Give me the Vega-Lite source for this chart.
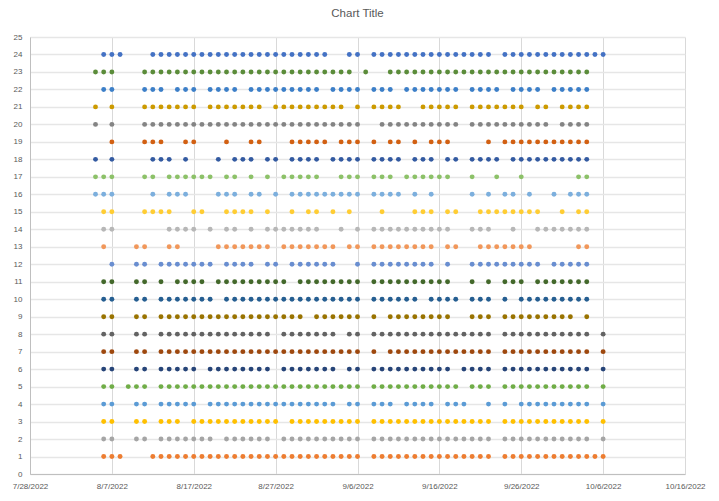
{
"$schema":"https://vega.github.io/schema/vega-lite/v6.json",
"width":655,"height":437,
"autosize":{"type":"none"},
"padding":{"left":30,"top":37,"right":34,"bottom":27},
"background":"white",
"title":{"text":"Chart Title","fontSize":11.5,"font":"Liberation Sans","fontWeight":"normal","color":"#595959","offset":14,"anchor":"middle"},
"config":{"view":{"stroke":null}},
"data":{"values":[
{"y":24,"d":"2022-08-06"},{"y":24,"d":"2022-08-07"},{"y":24,"d":"2022-08-08"},{"y":24,"d":"2022-08-12"},{"y":24,"d":"2022-08-13"},{"y":24,"d":"2022-08-14"},{"y":24,"d":"2022-08-15"},{"y":24,"d":"2022-08-16"},{"y":24,"d":"2022-08-17"},{"y":24,"d":"2022-08-18"},{"y":24,"d":"2022-08-19"},{"y":24,"d":"2022-08-20"},{"y":24,"d":"2022-08-21"},{"y":24,"d":"2022-08-22"},{"y":24,"d":"2022-08-23"},{"y":24,"d":"2022-08-24"},{"y":24,"d":"2022-08-25"},{"y":24,"d":"2022-08-26"},{"y":24,"d":"2022-08-27"},{"y":24,"d":"2022-08-28"},{"y":24,"d":"2022-08-29"},{"y":24,"d":"2022-08-30"},{"y":24,"d":"2022-08-31"},
{"y":24,"d":"2022-09-01"},{"y":24,"d":"2022-09-02"},{"y":24,"d":"2022-09-05"},{"y":24,"d":"2022-09-06"},{"y":24,"d":"2022-09-08"},{"y":24,"d":"2022-09-09"},{"y":24,"d":"2022-09-10"},{"y":24,"d":"2022-09-11"},{"y":24,"d":"2022-09-12"},{"y":24,"d":"2022-09-13"},{"y":24,"d":"2022-09-14"},{"y":24,"d":"2022-09-15"},{"y":24,"d":"2022-09-16"},{"y":24,"d":"2022-09-17"},{"y":24,"d":"2022-09-18"},{"y":24,"d":"2022-09-19"},{"y":24,"d":"2022-09-20"},{"y":24,"d":"2022-09-21"},{"y":24,"d":"2022-09-22"},{"y":24,"d":"2022-09-24"},{"y":24,"d":"2022-09-25"},{"y":24,"d":"2022-09-26"},{"y":24,"d":"2022-09-27"},{"y":24,"d":"2022-09-28"},{"y":24,"d":"2022-09-29"},{"y":24,"d":"2022-09-30"},
{"y":24,"d":"2022-10-01"},{"y":24,"d":"2022-10-02"},{"y":24,"d":"2022-10-03"},{"y":24,"d":"2022-10-04"},{"y":24,"d":"2022-10-05"},{"y":24,"d":"2022-10-06"},
{"y":23,"d":"2022-08-05"},{"y":23,"d":"2022-08-06"},{"y":23,"d":"2022-08-07"},{"y":23,"d":"2022-08-11"},{"y":23,"d":"2022-08-12"},{"y":23,"d":"2022-08-13"},{"y":23,"d":"2022-08-14"},{"y":23,"d":"2022-08-15"},{"y":23,"d":"2022-08-16"},{"y":23,"d":"2022-08-17"},{"y":23,"d":"2022-08-18"},{"y":23,"d":"2022-08-19"},{"y":23,"d":"2022-08-20"},{"y":23,"d":"2022-08-21"},{"y":23,"d":"2022-08-22"},{"y":23,"d":"2022-08-23"},{"y":23,"d":"2022-08-24"},{"y":23,"d":"2022-08-25"},{"y":23,"d":"2022-08-26"},{"y":23,"d":"2022-08-27"},{"y":23,"d":"2022-08-28"},{"y":23,"d":"2022-08-29"},{"y":23,"d":"2022-08-30"},{"y":23,"d":"2022-08-31"},
{"y":23,"d":"2022-09-01"},{"y":23,"d":"2022-09-02"},{"y":23,"d":"2022-09-03"},{"y":23,"d":"2022-09-04"},{"y":23,"d":"2022-09-05"},{"y":23,"d":"2022-09-07"},{"y":23,"d":"2022-09-10"},{"y":23,"d":"2022-09-11"},{"y":23,"d":"2022-09-12"},{"y":23,"d":"2022-09-13"},{"y":23,"d":"2022-09-14"},{"y":23,"d":"2022-09-15"},{"y":23,"d":"2022-09-16"},{"y":23,"d":"2022-09-17"},{"y":23,"d":"2022-09-18"},{"y":23,"d":"2022-09-19"},{"y":23,"d":"2022-09-20"},{"y":23,"d":"2022-09-21"},{"y":23,"d":"2022-09-22"},{"y":23,"d":"2022-09-23"},{"y":23,"d":"2022-09-24"},{"y":23,"d":"2022-09-25"},{"y":23,"d":"2022-09-26"},{"y":23,"d":"2022-09-27"},{"y":23,"d":"2022-09-28"},{"y":23,"d":"2022-09-29"},{"y":23,"d":"2022-09-30"},
{"y":23,"d":"2022-10-01"},{"y":23,"d":"2022-10-02"},{"y":23,"d":"2022-10-03"},{"y":23,"d":"2022-10-04"},
{"y":22,"d":"2022-08-06"},{"y":22,"d":"2022-08-07"},{"y":22,"d":"2022-08-11"},{"y":22,"d":"2022-08-12"},{"y":22,"d":"2022-08-13"},{"y":22,"d":"2022-08-15"},{"y":22,"d":"2022-08-16"},{"y":22,"d":"2022-08-17"},{"y":22,"d":"2022-08-19"},{"y":22,"d":"2022-08-20"},{"y":22,"d":"2022-08-21"},{"y":22,"d":"2022-08-22"},{"y":22,"d":"2022-08-24"},{"y":22,"d":"2022-08-25"},{"y":22,"d":"2022-08-26"},{"y":22,"d":"2022-08-27"},{"y":22,"d":"2022-08-28"},{"y":22,"d":"2022-08-29"},{"y":22,"d":"2022-08-30"},{"y":22,"d":"2022-08-31"},
{"y":22,"d":"2022-09-01"},{"y":22,"d":"2022-09-03"},{"y":22,"d":"2022-09-04"},{"y":22,"d":"2022-09-05"},{"y":22,"d":"2022-09-06"},{"y":22,"d":"2022-09-08"},{"y":22,"d":"2022-09-09"},{"y":22,"d":"2022-09-10"},{"y":22,"d":"2022-09-12"},{"y":22,"d":"2022-09-13"},{"y":22,"d":"2022-09-14"},{"y":22,"d":"2022-09-15"},{"y":22,"d":"2022-09-16"},{"y":22,"d":"2022-09-17"},{"y":22,"d":"2022-09-18"},{"y":22,"d":"2022-09-20"},{"y":22,"d":"2022-09-21"},{"y":22,"d":"2022-09-22"},{"y":22,"d":"2022-09-23"},{"y":22,"d":"2022-09-25"},{"y":22,"d":"2022-09-26"},{"y":22,"d":"2022-09-27"},{"y":22,"d":"2022-09-28"},{"y":22,"d":"2022-09-30"},
{"y":22,"d":"2022-10-01"},{"y":22,"d":"2022-10-02"},{"y":22,"d":"2022-10-03"},{"y":22,"d":"2022-10-04"},
{"y":21,"d":"2022-08-05"},{"y":21,"d":"2022-08-07"},{"y":21,"d":"2022-08-11"},{"y":21,"d":"2022-08-12"},{"y":21,"d":"2022-08-13"},{"y":21,"d":"2022-08-14"},{"y":21,"d":"2022-08-15"},{"y":21,"d":"2022-08-16"},{"y":21,"d":"2022-08-17"},{"y":21,"d":"2022-08-19"},{"y":21,"d":"2022-08-20"},{"y":21,"d":"2022-08-21"},{"y":21,"d":"2022-08-22"},{"y":21,"d":"2022-08-23"},{"y":21,"d":"2022-08-24"},{"y":21,"d":"2022-08-25"},{"y":21,"d":"2022-08-27"},{"y":21,"d":"2022-08-28"},{"y":21,"d":"2022-08-29"},{"y":21,"d":"2022-08-30"},{"y":21,"d":"2022-08-31"},
{"y":21,"d":"2022-09-01"},{"y":21,"d":"2022-09-02"},{"y":21,"d":"2022-09-03"},{"y":21,"d":"2022-09-04"},{"y":21,"d":"2022-09-06"},{"y":21,"d":"2022-09-08"},{"y":21,"d":"2022-09-09"},{"y":21,"d":"2022-09-10"},{"y":21,"d":"2022-09-11"},{"y":21,"d":"2022-09-14"},{"y":21,"d":"2022-09-15"},{"y":21,"d":"2022-09-16"},{"y":21,"d":"2022-09-17"},{"y":21,"d":"2022-09-18"},{"y":21,"d":"2022-09-20"},{"y":21,"d":"2022-09-21"},{"y":21,"d":"2022-09-22"},{"y":21,"d":"2022-09-23"},{"y":21,"d":"2022-09-24"},{"y":21,"d":"2022-09-25"},{"y":21,"d":"2022-09-26"},{"y":21,"d":"2022-09-28"},{"y":21,"d":"2022-09-29"},
{"y":21,"d":"2022-10-01"},{"y":21,"d":"2022-10-02"},{"y":21,"d":"2022-10-03"},{"y":21,"d":"2022-10-04"},
{"y":20,"d":"2022-08-05"},{"y":20,"d":"2022-08-07"},{"y":20,"d":"2022-08-11"},{"y":20,"d":"2022-08-12"},{"y":20,"d":"2022-08-13"},{"y":20,"d":"2022-08-14"},{"y":20,"d":"2022-08-15"},{"y":20,"d":"2022-08-16"},{"y":20,"d":"2022-08-17"},{"y":20,"d":"2022-08-18"},{"y":20,"d":"2022-08-19"},{"y":20,"d":"2022-08-20"},{"y":20,"d":"2022-08-21"},{"y":20,"d":"2022-08-22"},{"y":20,"d":"2022-08-23"},{"y":20,"d":"2022-08-24"},{"y":20,"d":"2022-08-25"},{"y":20,"d":"2022-08-26"},{"y":20,"d":"2022-08-27"},{"y":20,"d":"2022-08-28"},{"y":20,"d":"2022-08-29"},{"y":20,"d":"2022-08-30"},{"y":20,"d":"2022-08-31"},
{"y":20,"d":"2022-09-01"},{"y":20,"d":"2022-09-02"},{"y":20,"d":"2022-09-03"},{"y":20,"d":"2022-09-04"},{"y":20,"d":"2022-09-05"},{"y":20,"d":"2022-09-06"},{"y":20,"d":"2022-09-09"},{"y":20,"d":"2022-09-10"},{"y":20,"d":"2022-09-11"},{"y":20,"d":"2022-09-12"},{"y":20,"d":"2022-09-13"},{"y":20,"d":"2022-09-14"},{"y":20,"d":"2022-09-15"},{"y":20,"d":"2022-09-16"},{"y":20,"d":"2022-09-17"},{"y":20,"d":"2022-09-18"},{"y":20,"d":"2022-09-20"},{"y":20,"d":"2022-09-21"},{"y":20,"d":"2022-09-22"},{"y":20,"d":"2022-09-23"},{"y":20,"d":"2022-09-24"},{"y":20,"d":"2022-09-25"},{"y":20,"d":"2022-09-26"},{"y":20,"d":"2022-09-27"},{"y":20,"d":"2022-09-28"},{"y":20,"d":"2022-09-29"},
{"y":20,"d":"2022-10-01"},{"y":20,"d":"2022-10-02"},{"y":20,"d":"2022-10-03"},{"y":20,"d":"2022-10-04"},
{"y":19,"d":"2022-08-07"},{"y":19,"d":"2022-08-11"},{"y":19,"d":"2022-08-12"},{"y":19,"d":"2022-08-13"},{"y":19,"d":"2022-08-16"},{"y":19,"d":"2022-08-17"},{"y":19,"d":"2022-08-21"},{"y":19,"d":"2022-08-24"},{"y":19,"d":"2022-08-25"},{"y":19,"d":"2022-08-29"},{"y":19,"d":"2022-08-30"},{"y":19,"d":"2022-08-31"},
{"y":19,"d":"2022-09-01"},{"y":19,"d":"2022-09-02"},{"y":19,"d":"2022-09-04"},{"y":19,"d":"2022-09-05"},{"y":19,"d":"2022-09-06"},{"y":19,"d":"2022-09-08"},{"y":19,"d":"2022-09-10"},{"y":19,"d":"2022-09-11"},{"y":19,"d":"2022-09-13"},{"y":19,"d":"2022-09-15"},{"y":19,"d":"2022-09-16"},{"y":19,"d":"2022-09-17"},{"y":19,"d":"2022-09-22"},{"y":19,"d":"2022-09-24"},{"y":19,"d":"2022-09-25"},{"y":19,"d":"2022-09-26"},{"y":19,"d":"2022-09-27"},{"y":19,"d":"2022-09-28"},{"y":19,"d":"2022-09-29"},{"y":19,"d":"2022-09-30"},
{"y":19,"d":"2022-10-01"},{"y":19,"d":"2022-10-02"},{"y":19,"d":"2022-10-03"},{"y":19,"d":"2022-10-04"},
{"y":18,"d":"2022-08-05"},{"y":18,"d":"2022-08-07"},{"y":18,"d":"2022-08-12"},{"y":18,"d":"2022-08-13"},{"y":18,"d":"2022-08-14"},{"y":18,"d":"2022-08-16"},{"y":18,"d":"2022-08-20"},{"y":18,"d":"2022-08-22"},{"y":18,"d":"2022-08-23"},{"y":18,"d":"2022-08-24"},{"y":18,"d":"2022-08-26"},{"y":18,"d":"2022-08-27"},{"y":18,"d":"2022-08-29"},{"y":18,"d":"2022-08-30"},{"y":18,"d":"2022-08-31"},
{"y":18,"d":"2022-09-01"},{"y":18,"d":"2022-09-03"},{"y":18,"d":"2022-09-04"},{"y":18,"d":"2022-09-05"},{"y":18,"d":"2022-09-06"},{"y":18,"d":"2022-09-08"},{"y":18,"d":"2022-09-09"},{"y":18,"d":"2022-09-10"},{"y":18,"d":"2022-09-11"},{"y":18,"d":"2022-09-13"},{"y":18,"d":"2022-09-14"},{"y":18,"d":"2022-09-15"},{"y":18,"d":"2022-09-17"},{"y":18,"d":"2022-09-18"},{"y":18,"d":"2022-09-20"},{"y":18,"d":"2022-09-21"},{"y":18,"d":"2022-09-22"},{"y":18,"d":"2022-09-23"},{"y":18,"d":"2022-09-25"},{"y":18,"d":"2022-09-26"},{"y":18,"d":"2022-09-27"},{"y":18,"d":"2022-09-28"},{"y":18,"d":"2022-09-29"},{"y":18,"d":"2022-09-30"},
{"y":18,"d":"2022-10-01"},{"y":18,"d":"2022-10-02"},{"y":18,"d":"2022-10-03"},{"y":18,"d":"2022-10-04"},
{"y":17,"d":"2022-08-05"},{"y":17,"d":"2022-08-06"},{"y":17,"d":"2022-08-07"},{"y":17,"d":"2022-08-11"},{"y":17,"d":"2022-08-12"},{"y":17,"d":"2022-08-14"},{"y":17,"d":"2022-08-15"},{"y":17,"d":"2022-08-16"},{"y":17,"d":"2022-08-17"},{"y":17,"d":"2022-08-18"},{"y":17,"d":"2022-08-19"},{"y":17,"d":"2022-08-21"},{"y":17,"d":"2022-08-22"},{"y":17,"d":"2022-08-24"},{"y":17,"d":"2022-08-26"},{"y":17,"d":"2022-08-28"},{"y":17,"d":"2022-08-29"},{"y":17,"d":"2022-08-30"},{"y":17,"d":"2022-08-31"},
{"y":17,"d":"2022-09-01"},{"y":17,"d":"2022-09-04"},{"y":17,"d":"2022-09-05"},{"y":17,"d":"2022-09-06"},{"y":17,"d":"2022-09-08"},{"y":17,"d":"2022-09-09"},{"y":17,"d":"2022-09-10"},{"y":17,"d":"2022-09-12"},{"y":17,"d":"2022-09-13"},{"y":17,"d":"2022-09-14"},{"y":17,"d":"2022-09-15"},{"y":17,"d":"2022-09-16"},{"y":17,"d":"2022-09-17"},{"y":17,"d":"2022-09-20"},{"y":17,"d":"2022-09-23"},{"y":17,"d":"2022-09-26"},
{"y":17,"d":"2022-10-03"},{"y":17,"d":"2022-10-04"},
{"y":16,"d":"2022-08-05"},{"y":16,"d":"2022-08-06"},{"y":16,"d":"2022-08-07"},{"y":16,"d":"2022-08-12"},{"y":16,"d":"2022-08-14"},{"y":16,"d":"2022-08-15"},{"y":16,"d":"2022-08-16"},{"y":16,"d":"2022-08-20"},{"y":16,"d":"2022-08-21"},{"y":16,"d":"2022-08-22"},{"y":16,"d":"2022-08-24"},{"y":16,"d":"2022-08-25"},{"y":16,"d":"2022-08-27"},{"y":16,"d":"2022-08-29"},{"y":16,"d":"2022-08-30"},{"y":16,"d":"2022-08-31"},
{"y":16,"d":"2022-09-01"},{"y":16,"d":"2022-09-02"},{"y":16,"d":"2022-09-03"},{"y":16,"d":"2022-09-04"},{"y":16,"d":"2022-09-05"},{"y":16,"d":"2022-09-06"},{"y":16,"d":"2022-09-08"},{"y":16,"d":"2022-09-09"},{"y":16,"d":"2022-09-10"},{"y":16,"d":"2022-09-11"},{"y":16,"d":"2022-09-13"},{"y":16,"d":"2022-09-15"},{"y":16,"d":"2022-09-20"},{"y":16,"d":"2022-09-22"},{"y":16,"d":"2022-09-24"},{"y":16,"d":"2022-09-25"},{"y":16,"d":"2022-09-27"},{"y":16,"d":"2022-09-30"},
{"y":16,"d":"2022-10-02"},{"y":16,"d":"2022-10-03"},{"y":16,"d":"2022-10-04"},
{"y":15,"d":"2022-08-06"},{"y":15,"d":"2022-08-07"},{"y":15,"d":"2022-08-11"},{"y":15,"d":"2022-08-12"},{"y":15,"d":"2022-08-13"},{"y":15,"d":"2022-08-14"},{"y":15,"d":"2022-08-17"},{"y":15,"d":"2022-08-18"},{"y":15,"d":"2022-08-21"},{"y":15,"d":"2022-08-22"},{"y":15,"d":"2022-08-23"},{"y":15,"d":"2022-08-24"},{"y":15,"d":"2022-08-26"},{"y":15,"d":"2022-08-29"},{"y":15,"d":"2022-08-31"},
{"y":15,"d":"2022-09-01"},{"y":15,"d":"2022-09-03"},{"y":15,"d":"2022-09-05"},{"y":15,"d":"2022-09-09"},{"y":15,"d":"2022-09-13"},{"y":15,"d":"2022-09-14"},{"y":15,"d":"2022-09-15"},{"y":15,"d":"2022-09-17"},{"y":15,"d":"2022-09-18"},{"y":15,"d":"2022-09-21"},{"y":15,"d":"2022-09-22"},{"y":15,"d":"2022-09-23"},{"y":15,"d":"2022-09-24"},{"y":15,"d":"2022-09-25"},{"y":15,"d":"2022-09-26"},{"y":15,"d":"2022-09-27"},{"y":15,"d":"2022-09-28"},
{"y":15,"d":"2022-10-01"},{"y":15,"d":"2022-10-03"},{"y":15,"d":"2022-10-04"},
{"y":14,"d":"2022-08-06"},{"y":14,"d":"2022-08-07"},{"y":14,"d":"2022-08-14"},{"y":14,"d":"2022-08-15"},{"y":14,"d":"2022-08-16"},{"y":14,"d":"2022-08-17"},{"y":14,"d":"2022-08-19"},{"y":14,"d":"2022-08-21"},{"y":14,"d":"2022-08-22"},{"y":14,"d":"2022-08-24"},{"y":14,"d":"2022-08-26"},{"y":14,"d":"2022-08-27"},{"y":14,"d":"2022-08-28"},{"y":14,"d":"2022-08-29"},{"y":14,"d":"2022-08-30"},{"y":14,"d":"2022-08-31"},
{"y":14,"d":"2022-09-01"},{"y":14,"d":"2022-09-04"},{"y":14,"d":"2022-09-06"},{"y":14,"d":"2022-09-08"},{"y":14,"d":"2022-09-09"},{"y":14,"d":"2022-09-10"},{"y":14,"d":"2022-09-11"},{"y":14,"d":"2022-09-12"},{"y":14,"d":"2022-09-13"},{"y":14,"d":"2022-09-14"},{"y":14,"d":"2022-09-15"},{"y":14,"d":"2022-09-16"},{"y":14,"d":"2022-09-17"},{"y":14,"d":"2022-09-20"},{"y":14,"d":"2022-09-21"},{"y":14,"d":"2022-09-22"},{"y":14,"d":"2022-09-25"},{"y":14,"d":"2022-09-28"},{"y":14,"d":"2022-09-29"},{"y":14,"d":"2022-09-30"},
{"y":14,"d":"2022-10-01"},{"y":14,"d":"2022-10-02"},{"y":14,"d":"2022-10-03"},{"y":14,"d":"2022-10-04"},
{"y":13,"d":"2022-08-06"},{"y":13,"d":"2022-08-10"},{"y":13,"d":"2022-08-11"},{"y":13,"d":"2022-08-14"},{"y":13,"d":"2022-08-15"},{"y":13,"d":"2022-08-20"},{"y":13,"d":"2022-08-21"},{"y":13,"d":"2022-08-22"},{"y":13,"d":"2022-08-23"},{"y":13,"d":"2022-08-24"},{"y":13,"d":"2022-08-25"},{"y":13,"d":"2022-08-26"},{"y":13,"d":"2022-08-28"},{"y":13,"d":"2022-08-29"},{"y":13,"d":"2022-08-30"},{"y":13,"d":"2022-08-31"},
{"y":13,"d":"2022-09-01"},{"y":13,"d":"2022-09-02"},{"y":13,"d":"2022-09-03"},{"y":13,"d":"2022-09-05"},{"y":13,"d":"2022-09-06"},{"y":13,"d":"2022-09-08"},{"y":13,"d":"2022-09-09"},{"y":13,"d":"2022-09-10"},{"y":13,"d":"2022-09-11"},{"y":13,"d":"2022-09-12"},{"y":13,"d":"2022-09-13"},{"y":13,"d":"2022-09-14"},{"y":13,"d":"2022-09-15"},{"y":13,"d":"2022-09-17"},{"y":13,"d":"2022-09-18"},{"y":13,"d":"2022-09-21"},{"y":13,"d":"2022-09-22"},{"y":13,"d":"2022-09-23"},{"y":13,"d":"2022-09-24"},{"y":13,"d":"2022-09-25"},{"y":13,"d":"2022-09-26"},{"y":13,"d":"2022-09-27"},
{"y":13,"d":"2022-10-03"},{"y":13,"d":"2022-10-04"},
{"y":12,"d":"2022-08-07"},{"y":12,"d":"2022-08-10"},{"y":12,"d":"2022-08-11"},{"y":12,"d":"2022-08-13"},{"y":12,"d":"2022-08-14"},{"y":12,"d":"2022-08-15"},{"y":12,"d":"2022-08-16"},{"y":12,"d":"2022-08-17"},{"y":12,"d":"2022-08-18"},{"y":12,"d":"2022-08-19"},{"y":12,"d":"2022-08-21"},{"y":12,"d":"2022-08-22"},{"y":12,"d":"2022-08-23"},{"y":12,"d":"2022-08-24"},{"y":12,"d":"2022-08-26"},{"y":12,"d":"2022-08-27"},{"y":12,"d":"2022-08-29"},{"y":12,"d":"2022-08-30"},{"y":12,"d":"2022-08-31"},
{"y":12,"d":"2022-09-01"},{"y":12,"d":"2022-09-02"},{"y":12,"d":"2022-09-03"},{"y":12,"d":"2022-09-06"},{"y":12,"d":"2022-09-08"},{"y":12,"d":"2022-09-09"},{"y":12,"d":"2022-09-10"},{"y":12,"d":"2022-09-11"},{"y":12,"d":"2022-09-12"},{"y":12,"d":"2022-09-13"},{"y":12,"d":"2022-09-14"},{"y":12,"d":"2022-09-15"},{"y":12,"d":"2022-09-17"},{"y":12,"d":"2022-09-20"},{"y":12,"d":"2022-09-21"},{"y":12,"d":"2022-09-22"},{"y":12,"d":"2022-09-23"},{"y":12,"d":"2022-09-24"},{"y":12,"d":"2022-09-25"},{"y":12,"d":"2022-09-26"},{"y":12,"d":"2022-09-27"},{"y":12,"d":"2022-09-28"},{"y":12,"d":"2022-09-30"},
{"y":12,"d":"2022-10-01"},{"y":12,"d":"2022-10-02"},{"y":12,"d":"2022-10-03"},{"y":12,"d":"2022-10-04"},
{"y":11,"d":"2022-08-06"},{"y":11,"d":"2022-08-07"},{"y":11,"d":"2022-08-10"},{"y":11,"d":"2022-08-11"},{"y":11,"d":"2022-08-13"},{"y":11,"d":"2022-08-15"},{"y":11,"d":"2022-08-16"},{"y":11,"d":"2022-08-17"},{"y":11,"d":"2022-08-18"},{"y":11,"d":"2022-08-20"},{"y":11,"d":"2022-08-21"},{"y":11,"d":"2022-08-22"},{"y":11,"d":"2022-08-23"},{"y":11,"d":"2022-08-24"},{"y":11,"d":"2022-08-25"},{"y":11,"d":"2022-08-26"},{"y":11,"d":"2022-08-27"},{"y":11,"d":"2022-08-28"},{"y":11,"d":"2022-08-30"},{"y":11,"d":"2022-08-31"},
{"y":11,"d":"2022-09-01"},{"y":11,"d":"2022-09-02"},{"y":11,"d":"2022-09-03"},{"y":11,"d":"2022-09-04"},{"y":11,"d":"2022-09-05"},{"y":11,"d":"2022-09-06"},{"y":11,"d":"2022-09-08"},{"y":11,"d":"2022-09-09"},{"y":11,"d":"2022-09-10"},{"y":11,"d":"2022-09-11"},{"y":11,"d":"2022-09-12"},{"y":11,"d":"2022-09-13"},{"y":11,"d":"2022-09-14"},{"y":11,"d":"2022-09-15"},{"y":11,"d":"2022-09-16"},{"y":11,"d":"2022-09-17"},{"y":11,"d":"2022-09-20"},{"y":11,"d":"2022-09-22"},{"y":11,"d":"2022-09-24"},{"y":11,"d":"2022-09-25"},{"y":11,"d":"2022-09-26"},{"y":11,"d":"2022-09-28"},{"y":11,"d":"2022-09-29"},{"y":11,"d":"2022-09-30"},
{"y":11,"d":"2022-10-01"},{"y":11,"d":"2022-10-02"},{"y":11,"d":"2022-10-03"},{"y":11,"d":"2022-10-04"},
{"y":10,"d":"2022-08-06"},{"y":10,"d":"2022-08-07"},{"y":10,"d":"2022-08-10"},{"y":10,"d":"2022-08-11"},{"y":10,"d":"2022-08-13"},{"y":10,"d":"2022-08-14"},{"y":10,"d":"2022-08-15"},{"y":10,"d":"2022-08-16"},{"y":10,"d":"2022-08-17"},{"y":10,"d":"2022-08-18"},{"y":10,"d":"2022-08-19"},{"y":10,"d":"2022-08-21"},{"y":10,"d":"2022-08-22"},{"y":10,"d":"2022-08-23"},{"y":10,"d":"2022-08-24"},{"y":10,"d":"2022-08-25"},{"y":10,"d":"2022-08-26"},{"y":10,"d":"2022-08-27"},{"y":10,"d":"2022-08-28"},{"y":10,"d":"2022-08-29"},{"y":10,"d":"2022-08-30"},{"y":10,"d":"2022-08-31"},
{"y":10,"d":"2022-09-01"},{"y":10,"d":"2022-09-02"},{"y":10,"d":"2022-09-03"},{"y":10,"d":"2022-09-04"},{"y":10,"d":"2022-09-05"},{"y":10,"d":"2022-09-06"},{"y":10,"d":"2022-09-08"},{"y":10,"d":"2022-09-09"},{"y":10,"d":"2022-09-10"},{"y":10,"d":"2022-09-11"},{"y":10,"d":"2022-09-12"},{"y":10,"d":"2022-09-13"},{"y":10,"d":"2022-09-15"},{"y":10,"d":"2022-09-16"},{"y":10,"d":"2022-09-17"},{"y":10,"d":"2022-09-18"},{"y":10,"d":"2022-09-20"},{"y":10,"d":"2022-09-21"},{"y":10,"d":"2022-09-22"},{"y":10,"d":"2022-09-24"},{"y":10,"d":"2022-09-26"},{"y":10,"d":"2022-09-27"},{"y":10,"d":"2022-09-28"},{"y":10,"d":"2022-09-29"},{"y":10,"d":"2022-09-30"},
{"y":10,"d":"2022-10-01"},{"y":10,"d":"2022-10-02"},{"y":10,"d":"2022-10-03"},{"y":10,"d":"2022-10-04"},
{"y":9,"d":"2022-08-06"},{"y":9,"d":"2022-08-07"},{"y":9,"d":"2022-08-10"},{"y":9,"d":"2022-08-11"},{"y":9,"d":"2022-08-13"},{"y":9,"d":"2022-08-14"},{"y":9,"d":"2022-08-15"},{"y":9,"d":"2022-08-16"},{"y":9,"d":"2022-08-17"},{"y":9,"d":"2022-08-18"},{"y":9,"d":"2022-08-19"},{"y":9,"d":"2022-08-20"},{"y":9,"d":"2022-08-21"},{"y":9,"d":"2022-08-22"},{"y":9,"d":"2022-08-23"},{"y":9,"d":"2022-08-24"},{"y":9,"d":"2022-08-25"},{"y":9,"d":"2022-08-26"},{"y":9,"d":"2022-08-27"},{"y":9,"d":"2022-08-28"},{"y":9,"d":"2022-08-29"},{"y":9,"d":"2022-08-30"},
{"y":9,"d":"2022-09-01"},{"y":9,"d":"2022-09-02"},{"y":9,"d":"2022-09-03"},{"y":9,"d":"2022-09-04"},{"y":9,"d":"2022-09-05"},{"y":9,"d":"2022-09-06"},{"y":9,"d":"2022-09-08"},{"y":9,"d":"2022-09-10"},{"y":9,"d":"2022-09-11"},{"y":9,"d":"2022-09-12"},{"y":9,"d":"2022-09-13"},{"y":9,"d":"2022-09-14"},{"y":9,"d":"2022-09-15"},{"y":9,"d":"2022-09-16"},{"y":9,"d":"2022-09-17"},{"y":9,"d":"2022-09-20"},{"y":9,"d":"2022-09-21"},{"y":9,"d":"2022-09-22"},{"y":9,"d":"2022-09-24"},{"y":9,"d":"2022-09-25"},{"y":9,"d":"2022-09-26"},{"y":9,"d":"2022-09-27"},{"y":9,"d":"2022-09-28"},{"y":9,"d":"2022-09-29"},{"y":9,"d":"2022-09-30"},
{"y":9,"d":"2022-10-01"},{"y":9,"d":"2022-10-02"},{"y":9,"d":"2022-10-04"},
{"y":8,"d":"2022-08-06"},{"y":8,"d":"2022-08-07"},{"y":8,"d":"2022-08-10"},{"y":8,"d":"2022-08-11"},{"y":8,"d":"2022-08-13"},{"y":8,"d":"2022-08-14"},{"y":8,"d":"2022-08-15"},{"y":8,"d":"2022-08-16"},{"y":8,"d":"2022-08-17"},{"y":8,"d":"2022-08-18"},{"y":8,"d":"2022-08-19"},{"y":8,"d":"2022-08-20"},{"y":8,"d":"2022-08-21"},{"y":8,"d":"2022-08-22"},{"y":8,"d":"2022-08-23"},{"y":8,"d":"2022-08-24"},{"y":8,"d":"2022-08-25"},{"y":8,"d":"2022-08-26"},{"y":8,"d":"2022-08-28"},{"y":8,"d":"2022-08-29"},{"y":8,"d":"2022-08-30"},{"y":8,"d":"2022-08-31"},
{"y":8,"d":"2022-09-01"},{"y":8,"d":"2022-09-02"},{"y":8,"d":"2022-09-03"},{"y":8,"d":"2022-09-05"},{"y":8,"d":"2022-09-06"},{"y":8,"d":"2022-09-08"},{"y":8,"d":"2022-09-09"},{"y":8,"d":"2022-09-10"},{"y":8,"d":"2022-09-11"},{"y":8,"d":"2022-09-12"},{"y":8,"d":"2022-09-13"},{"y":8,"d":"2022-09-14"},{"y":8,"d":"2022-09-15"},{"y":8,"d":"2022-09-16"},{"y":8,"d":"2022-09-17"},{"y":8,"d":"2022-09-18"},{"y":8,"d":"2022-09-19"},{"y":8,"d":"2022-09-20"},{"y":8,"d":"2022-09-21"},{"y":8,"d":"2022-09-22"},{"y":8,"d":"2022-09-24"},{"y":8,"d":"2022-09-25"},{"y":8,"d":"2022-09-26"},{"y":8,"d":"2022-09-27"},{"y":8,"d":"2022-09-28"},{"y":8,"d":"2022-09-29"},{"y":8,"d":"2022-09-30"},
{"y":8,"d":"2022-10-01"},{"y":8,"d":"2022-10-02"},{"y":8,"d":"2022-10-03"},{"y":8,"d":"2022-10-04"},{"y":8,"d":"2022-10-06"},
{"y":7,"d":"2022-08-06"},{"y":7,"d":"2022-08-07"},{"y":7,"d":"2022-08-10"},{"y":7,"d":"2022-08-11"},{"y":7,"d":"2022-08-13"},{"y":7,"d":"2022-08-14"},{"y":7,"d":"2022-08-15"},{"y":7,"d":"2022-08-16"},{"y":7,"d":"2022-08-17"},{"y":7,"d":"2022-08-18"},{"y":7,"d":"2022-08-19"},{"y":7,"d":"2022-08-20"},{"y":7,"d":"2022-08-21"},{"y":7,"d":"2022-08-22"},{"y":7,"d":"2022-08-23"},{"y":7,"d":"2022-08-24"},{"y":7,"d":"2022-08-25"},{"y":7,"d":"2022-08-26"},{"y":7,"d":"2022-08-27"},{"y":7,"d":"2022-08-28"},{"y":7,"d":"2022-08-29"},{"y":7,"d":"2022-08-30"},{"y":7,"d":"2022-08-31"},
{"y":7,"d":"2022-09-01"},{"y":7,"d":"2022-09-02"},{"y":7,"d":"2022-09-03"},{"y":7,"d":"2022-09-04"},{"y":7,"d":"2022-09-05"},{"y":7,"d":"2022-09-06"},{"y":7,"d":"2022-09-08"},{"y":7,"d":"2022-09-10"},{"y":7,"d":"2022-09-11"},{"y":7,"d":"2022-09-12"},{"y":7,"d":"2022-09-13"},{"y":7,"d":"2022-09-14"},{"y":7,"d":"2022-09-15"},{"y":7,"d":"2022-09-16"},{"y":7,"d":"2022-09-17"},{"y":7,"d":"2022-09-18"},{"y":7,"d":"2022-09-19"},{"y":7,"d":"2022-09-20"},{"y":7,"d":"2022-09-21"},{"y":7,"d":"2022-09-22"},{"y":7,"d":"2022-09-24"},{"y":7,"d":"2022-09-25"},{"y":7,"d":"2022-09-26"},{"y":7,"d":"2022-09-27"},{"y":7,"d":"2022-09-28"},{"y":7,"d":"2022-09-29"},{"y":7,"d":"2022-09-30"},
{"y":7,"d":"2022-10-01"},{"y":7,"d":"2022-10-02"},{"y":7,"d":"2022-10-03"},{"y":7,"d":"2022-10-04"},{"y":7,"d":"2022-10-06"},
{"y":6,"d":"2022-08-06"},{"y":6,"d":"2022-08-07"},{"y":6,"d":"2022-08-10"},{"y":6,"d":"2022-08-11"},{"y":6,"d":"2022-08-13"},{"y":6,"d":"2022-08-14"},{"y":6,"d":"2022-08-15"},{"y":6,"d":"2022-08-16"},{"y":6,"d":"2022-08-17"},{"y":6,"d":"2022-08-19"},{"y":6,"d":"2022-08-20"},{"y":6,"d":"2022-08-21"},{"y":6,"d":"2022-08-22"},{"y":6,"d":"2022-08-23"},{"y":6,"d":"2022-08-24"},{"y":6,"d":"2022-08-25"},{"y":6,"d":"2022-08-26"},{"y":6,"d":"2022-08-28"},{"y":6,"d":"2022-08-29"},{"y":6,"d":"2022-08-30"},{"y":6,"d":"2022-08-31"},
{"y":6,"d":"2022-09-01"},{"y":6,"d":"2022-09-02"},{"y":6,"d":"2022-09-03"},{"y":6,"d":"2022-09-05"},{"y":6,"d":"2022-09-06"},{"y":6,"d":"2022-09-08"},{"y":6,"d":"2022-09-09"},{"y":6,"d":"2022-09-10"},{"y":6,"d":"2022-09-11"},{"y":6,"d":"2022-09-12"},{"y":6,"d":"2022-09-13"},{"y":6,"d":"2022-09-14"},{"y":6,"d":"2022-09-15"},{"y":6,"d":"2022-09-16"},{"y":6,"d":"2022-09-17"},{"y":6,"d":"2022-09-19"},{"y":6,"d":"2022-09-20"},{"y":6,"d":"2022-09-21"},{"y":6,"d":"2022-09-22"},{"y":6,"d":"2022-09-24"},{"y":6,"d":"2022-09-25"},{"y":6,"d":"2022-09-26"},{"y":6,"d":"2022-09-27"},{"y":6,"d":"2022-09-28"},{"y":6,"d":"2022-09-29"},{"y":6,"d":"2022-09-30"},
{"y":6,"d":"2022-10-01"},{"y":6,"d":"2022-10-02"},{"y":6,"d":"2022-10-03"},{"y":6,"d":"2022-10-04"},{"y":6,"d":"2022-10-06"},
{"y":5,"d":"2022-08-06"},{"y":5,"d":"2022-08-07"},{"y":5,"d":"2022-08-09"},{"y":5,"d":"2022-08-10"},{"y":5,"d":"2022-08-11"},{"y":5,"d":"2022-08-13"},{"y":5,"d":"2022-08-14"},{"y":5,"d":"2022-08-15"},{"y":5,"d":"2022-08-16"},{"y":5,"d":"2022-08-17"},{"y":5,"d":"2022-08-18"},{"y":5,"d":"2022-08-19"},{"y":5,"d":"2022-08-20"},{"y":5,"d":"2022-08-21"},{"y":5,"d":"2022-08-22"},{"y":5,"d":"2022-08-23"},{"y":5,"d":"2022-08-24"},{"y":5,"d":"2022-08-25"},{"y":5,"d":"2022-08-26"},{"y":5,"d":"2022-08-27"},{"y":5,"d":"2022-08-28"},{"y":5,"d":"2022-08-29"},{"y":5,"d":"2022-08-30"},{"y":5,"d":"2022-08-31"},
{"y":5,"d":"2022-09-01"},{"y":5,"d":"2022-09-02"},{"y":5,"d":"2022-09-03"},{"y":5,"d":"2022-09-04"},{"y":5,"d":"2022-09-05"},{"y":5,"d":"2022-09-06"},{"y":5,"d":"2022-09-08"},{"y":5,"d":"2022-09-09"},{"y":5,"d":"2022-09-10"},{"y":5,"d":"2022-09-11"},{"y":5,"d":"2022-09-12"},{"y":5,"d":"2022-09-13"},{"y":5,"d":"2022-09-14"},{"y":5,"d":"2022-09-15"},{"y":5,"d":"2022-09-16"},{"y":5,"d":"2022-09-17"},{"y":5,"d":"2022-09-18"},{"y":5,"d":"2022-09-20"},{"y":5,"d":"2022-09-21"},{"y":5,"d":"2022-09-22"},{"y":5,"d":"2022-09-24"},{"y":5,"d":"2022-09-25"},{"y":5,"d":"2022-09-26"},{"y":5,"d":"2022-09-27"},{"y":5,"d":"2022-09-28"},{"y":5,"d":"2022-09-29"},{"y":5,"d":"2022-09-30"},
{"y":5,"d":"2022-10-01"},{"y":5,"d":"2022-10-02"},{"y":5,"d":"2022-10-03"},{"y":5,"d":"2022-10-04"},{"y":5,"d":"2022-10-06"},
{"y":4,"d":"2022-08-06"},{"y":4,"d":"2022-08-07"},{"y":4,"d":"2022-08-10"},{"y":4,"d":"2022-08-11"},{"y":4,"d":"2022-08-13"},{"y":4,"d":"2022-08-14"},{"y":4,"d":"2022-08-15"},{"y":4,"d":"2022-08-16"},{"y":4,"d":"2022-08-17"},{"y":4,"d":"2022-08-19"},{"y":4,"d":"2022-08-20"},{"y":4,"d":"2022-08-21"},{"y":4,"d":"2022-08-22"},{"y":4,"d":"2022-08-23"},{"y":4,"d":"2022-08-24"},{"y":4,"d":"2022-08-25"},{"y":4,"d":"2022-08-26"},{"y":4,"d":"2022-08-27"},{"y":4,"d":"2022-08-28"},{"y":4,"d":"2022-08-29"},{"y":4,"d":"2022-08-30"},{"y":4,"d":"2022-08-31"},
{"y":4,"d":"2022-09-01"},{"y":4,"d":"2022-09-02"},{"y":4,"d":"2022-09-03"},{"y":4,"d":"2022-09-05"},{"y":4,"d":"2022-09-06"},{"y":4,"d":"2022-09-08"},{"y":4,"d":"2022-09-09"},{"y":4,"d":"2022-09-10"},{"y":4,"d":"2022-09-12"},{"y":4,"d":"2022-09-13"},{"y":4,"d":"2022-09-14"},{"y":4,"d":"2022-09-15"},{"y":4,"d":"2022-09-17"},{"y":4,"d":"2022-09-18"},{"y":4,"d":"2022-09-19"},{"y":4,"d":"2022-09-22"},{"y":4,"d":"2022-09-24"},{"y":4,"d":"2022-09-26"},{"y":4,"d":"2022-09-27"},{"y":4,"d":"2022-09-28"},{"y":4,"d":"2022-09-29"},{"y":4,"d":"2022-09-30"},
{"y":4,"d":"2022-10-01"},{"y":4,"d":"2022-10-02"},{"y":4,"d":"2022-10-03"},{"y":4,"d":"2022-10-04"},{"y":4,"d":"2022-10-06"},
{"y":3,"d":"2022-08-06"},{"y":3,"d":"2022-08-07"},{"y":3,"d":"2022-08-10"},{"y":3,"d":"2022-08-11"},{"y":3,"d":"2022-08-13"},{"y":3,"d":"2022-08-14"},{"y":3,"d":"2022-08-15"},{"y":3,"d":"2022-08-17"},{"y":3,"d":"2022-08-18"},{"y":3,"d":"2022-08-19"},{"y":3,"d":"2022-08-20"},{"y":3,"d":"2022-08-21"},{"y":3,"d":"2022-08-22"},{"y":3,"d":"2022-08-23"},{"y":3,"d":"2022-08-24"},{"y":3,"d":"2022-08-25"},{"y":3,"d":"2022-08-26"},{"y":3,"d":"2022-08-27"},{"y":3,"d":"2022-08-29"},{"y":3,"d":"2022-08-30"},{"y":3,"d":"2022-08-31"},
{"y":3,"d":"2022-09-01"},{"y":3,"d":"2022-09-02"},{"y":3,"d":"2022-09-03"},{"y":3,"d":"2022-09-04"},{"y":3,"d":"2022-09-05"},{"y":3,"d":"2022-09-06"},{"y":3,"d":"2022-09-08"},{"y":3,"d":"2022-09-09"},{"y":3,"d":"2022-09-10"},{"y":3,"d":"2022-09-11"},{"y":3,"d":"2022-09-12"},{"y":3,"d":"2022-09-13"},{"y":3,"d":"2022-09-14"},{"y":3,"d":"2022-09-15"},{"y":3,"d":"2022-09-16"},{"y":3,"d":"2022-09-17"},{"y":3,"d":"2022-09-18"},{"y":3,"d":"2022-09-19"},{"y":3,"d":"2022-09-20"},{"y":3,"d":"2022-09-21"},{"y":3,"d":"2022-09-22"},{"y":3,"d":"2022-09-24"},{"y":3,"d":"2022-09-25"},{"y":3,"d":"2022-09-26"},{"y":3,"d":"2022-09-27"},{"y":3,"d":"2022-09-28"},{"y":3,"d":"2022-09-29"},{"y":3,"d":"2022-09-30"},
{"y":3,"d":"2022-10-01"},{"y":3,"d":"2022-10-02"},{"y":3,"d":"2022-10-03"},{"y":3,"d":"2022-10-04"},{"y":3,"d":"2022-10-06"},
{"y":2,"d":"2022-08-06"},{"y":2,"d":"2022-08-07"},{"y":2,"d":"2022-08-10"},{"y":2,"d":"2022-08-11"},{"y":2,"d":"2022-08-13"},{"y":2,"d":"2022-08-14"},{"y":2,"d":"2022-08-15"},{"y":2,"d":"2022-08-16"},{"y":2,"d":"2022-08-17"},{"y":2,"d":"2022-08-18"},{"y":2,"d":"2022-08-19"},{"y":2,"d":"2022-08-21"},{"y":2,"d":"2022-08-22"},{"y":2,"d":"2022-08-23"},{"y":2,"d":"2022-08-24"},{"y":2,"d":"2022-08-25"},{"y":2,"d":"2022-08-26"},{"y":2,"d":"2022-08-28"},{"y":2,"d":"2022-08-29"},{"y":2,"d":"2022-08-30"},{"y":2,"d":"2022-08-31"},
{"y":2,"d":"2022-09-01"},{"y":2,"d":"2022-09-02"},{"y":2,"d":"2022-09-03"},{"y":2,"d":"2022-09-04"},{"y":2,"d":"2022-09-05"},{"y":2,"d":"2022-09-06"},{"y":2,"d":"2022-09-08"},{"y":2,"d":"2022-09-09"},{"y":2,"d":"2022-09-10"},{"y":2,"d":"2022-09-11"},{"y":2,"d":"2022-09-12"},{"y":2,"d":"2022-09-13"},{"y":2,"d":"2022-09-14"},{"y":2,"d":"2022-09-15"},{"y":2,"d":"2022-09-16"},{"y":2,"d":"2022-09-17"},{"y":2,"d":"2022-09-18"},{"y":2,"d":"2022-09-19"},{"y":2,"d":"2022-09-20"},{"y":2,"d":"2022-09-21"},{"y":2,"d":"2022-09-22"},{"y":2,"d":"2022-09-24"},{"y":2,"d":"2022-09-25"},{"y":2,"d":"2022-09-26"},{"y":2,"d":"2022-09-27"},{"y":2,"d":"2022-09-28"},{"y":2,"d":"2022-09-29"},{"y":2,"d":"2022-09-30"},
{"y":2,"d":"2022-10-01"},{"y":2,"d":"2022-10-02"},{"y":2,"d":"2022-10-03"},{"y":2,"d":"2022-10-04"},{"y":2,"d":"2022-10-06"},
{"y":1,"d":"2022-08-06"},{"y":1,"d":"2022-08-07"},{"y":1,"d":"2022-08-08"},{"y":1,"d":"2022-08-12"},{"y":1,"d":"2022-08-13"},{"y":1,"d":"2022-08-14"},{"y":1,"d":"2022-08-15"},{"y":1,"d":"2022-08-16"},{"y":1,"d":"2022-08-17"},{"y":1,"d":"2022-08-18"},{"y":1,"d":"2022-08-19"},{"y":1,"d":"2022-08-20"},{"y":1,"d":"2022-08-21"},{"y":1,"d":"2022-08-22"},{"y":1,"d":"2022-08-23"},{"y":1,"d":"2022-08-24"},{"y":1,"d":"2022-08-25"},{"y":1,"d":"2022-08-26"},{"y":1,"d":"2022-08-27"},{"y":1,"d":"2022-08-28"},{"y":1,"d":"2022-08-29"},{"y":1,"d":"2022-08-30"},{"y":1,"d":"2022-08-31"},
{"y":1,"d":"2022-09-01"},{"y":1,"d":"2022-09-02"},{"y":1,"d":"2022-09-03"},{"y":1,"d":"2022-09-04"},{"y":1,"d":"2022-09-05"},{"y":1,"d":"2022-09-06"},{"y":1,"d":"2022-09-08"},{"y":1,"d":"2022-09-09"},{"y":1,"d":"2022-09-10"},{"y":1,"d":"2022-09-11"},{"y":1,"d":"2022-09-12"},{"y":1,"d":"2022-09-13"},{"y":1,"d":"2022-09-14"},{"y":1,"d":"2022-09-15"},{"y":1,"d":"2022-09-16"},{"y":1,"d":"2022-09-17"},{"y":1,"d":"2022-09-18"},{"y":1,"d":"2022-09-19"},{"y":1,"d":"2022-09-20"},{"y":1,"d":"2022-09-21"},{"y":1,"d":"2022-09-22"},{"y":1,"d":"2022-09-24"},{"y":1,"d":"2022-09-25"},{"y":1,"d":"2022-09-26"},{"y":1,"d":"2022-09-27"},{"y":1,"d":"2022-09-28"},{"y":1,"d":"2022-09-29"},{"y":1,"d":"2022-09-30"},
{"y":1,"d":"2022-10-01"},{"y":1,"d":"2022-10-02"},{"y":1,"d":"2022-10-03"},{"y":1,"d":"2022-10-04"},{"y":1,"d":"2022-10-05"},{"y":1,"d":"2022-10-06"}
]},
"mark":{"type":"circle","size":24,"opacity":1},
"encoding":{
"x":{"field":"d","type":"temporal",
"scale":{"type":"utc","domain":[{"year":2022,"month":7,"date":28,"utc":true},{"year":2022,"month":10,"date":16,"utc":true}]},
"axis":{"title":null,"format":"%-m/%-d/%Y","values":[{"year":2022,"month":7,"date":28,"utc":true},{"year":2022,"month":8,"date":7,"utc":true},{"year":2022,"month":8,"date":17,"utc":true},{"year":2022,"month":8,"date":27,"utc":true},{"year":2022,"month":9,"date":6,"utc":true},{"year":2022,"month":9,"date":16,"utc":true},{"year":2022,"month":9,"date":26,"utc":true},{"year":2022,"month":10,"date":6,"utc":true},{"year":2022,"month":10,"date":16,"utc":true}],
"grid":true,"gridColor":"#d9d9d9","gridWidth":1,"domainColor":"#bfbfbf","domainWidth":1,"ticks":false,"labelFont":"Liberation Sans","labelFontSize":8,"labelColor":"#595959","labelPadding":8,"labelFlush":false,"labelOverlap":false}},
"y":{"field":"y","type":"quantitative","scale":{"domain":[0,25],"nice":false,"zero":true},
"axis":{"title":null,"values":[0,1,2,3,4,5,6,7,8,9,10,11,12,13,14,15,16,17,18,19,20,21,22,23,24,25],"grid":true,"gridColor":"#e6e6e6","gridWidth":1.5,"domainColor":"#bfbfbf","domainWidth":1,"ticks":false,"labelFont":"Liberation Sans","labelFontSize":8,"labelColor":"#595959","labelPadding":8,"labelFlush":false,"labelOverlap":false}},
"color":{"field":"y","type":"nominal","legend":null,
"scale":{"domain":[1,2,3,4,5,6,7,8,9,10,11,12,13,14,15,16,17,18,19,20,21,22,23,24],
"range":["#ED7D31","#A5A5A5","#FFC000","#5B9BD5","#70AD47","#264478","#9E480E","#636363","#997300","#255E91","#43682B","#698ED0","#F1975A","#B7B7B7","#FFCD33","#7CAFDD","#8CC168","#335AA1","#D26012","#848484","#CC9A00","#3C7FC8","#5B8C3A","#4472C4"]}}
}
}
